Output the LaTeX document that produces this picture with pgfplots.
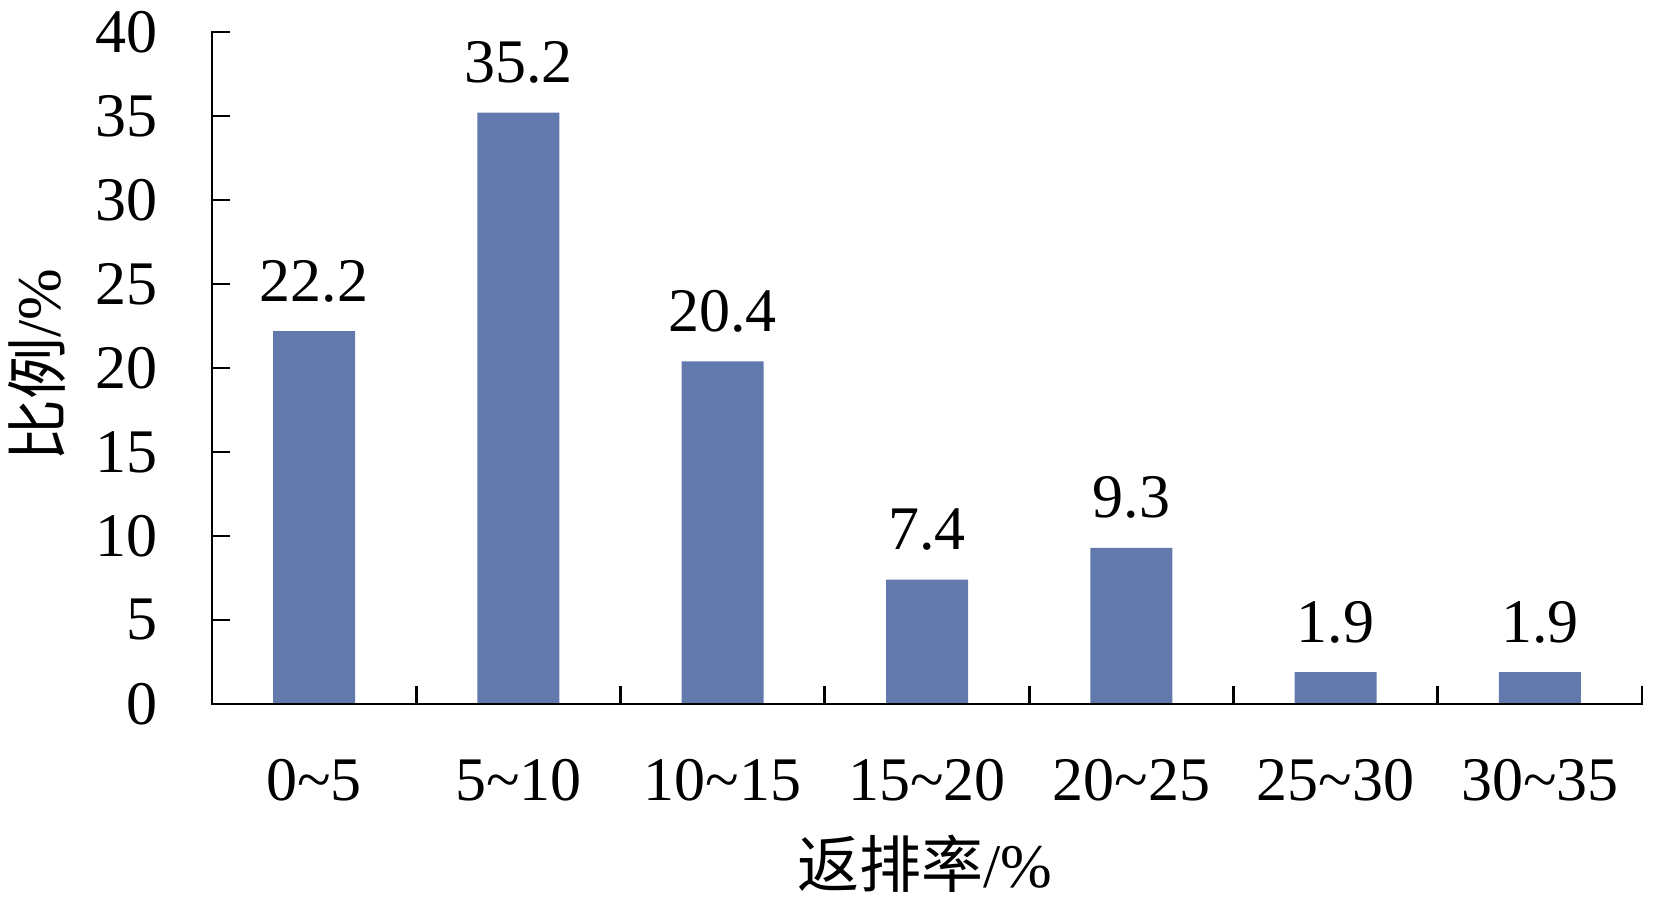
\documentclass[border=0pt]{standalone}
\usepackage{pgfplots}
\pgfplotsset{compat=1.18}
\usepackage{fontspec}
\setmainfont{Liberation Serif}
\newfontfamily\cjk{Noto Sans CJK SC}
\definecolor{barblue}{RGB}{98,121,173}

\pgfplotstableread{
x y lab
0 22.2 22.2
1 35.2 35.2
2 20.4 20.4
3 7.4 7.4
4 9.3 9.3
5 1.9 1.9
6 1.9 1.9
}\fanpai

\begin{document}
\begin{tikzpicture}
\useasboundingbox (-106pt,-100pt) rectangle (721pt,352pt);
\begin{axis}[
    at={(0,0)}, anchor=south west,
    scale only axis,
    width=715pt, height=336pt,
    ybar, bar width=41pt,
    xmin=-0.5, xmax=6.5,
    ymin=0, ymax=40,
    axis line style={draw=none},
    clip=false,
    xtick pos=bottom, ytick pos=left,
    ytick={0,5,...,40},
    xtick={-0.5,0.5,...,6.5},
    x tick label as interval,
    xticklabels={0\textasciitilde5, 5\textasciitilde10, 10\textasciitilde15,
                 15\textasciitilde20, 20\textasciitilde25, 25\textasciitilde30,
                 30\textasciitilde35},
    tick align=inside,
    xtick align=inside, ytick align=inside,
    major tick length=9pt,
    tick style={line width=1.4pt, black},
    font=\fontsize{31}{36}\selectfont,
    /pgf/number format/assume math mode=true,
    yticklabel style={anchor=east, inner sep=0pt, xshift=-27pt},
    xticklabel style={anchor=base, inner sep=0pt, yshift=-48pt},
    every axis x label/.style={at={(axis description cs:0.4986,-0.238)}, anchor=center},
    every axis y label/.style={at={(axis description cs:-0.1224,0.504)}, anchor=center, rotate=90},
    xlabel={{\cjk 返排率}/\%},
    ylabel={{\cjk 比例}/\%},
    nodes near coords,
    point meta=explicit symbolic,
    every node near coord/.append style={anchor=base, inner sep=0pt, yshift=15pt, font=\fontsize{31}{36}\selectfont},
]
\addplot[fill=barblue, draw=none] table[x=x, y=y, meta=lab] {\fanpai};
% axis frame: left and bottom only
\draw[line width=1.4pt, black, line cap=rect] (axis cs:-0.5,40) -- (axis cs:-0.5,0) -- (axis cs:6.5,0);
\end{axis}
\end{tikzpicture}
\end{document}
